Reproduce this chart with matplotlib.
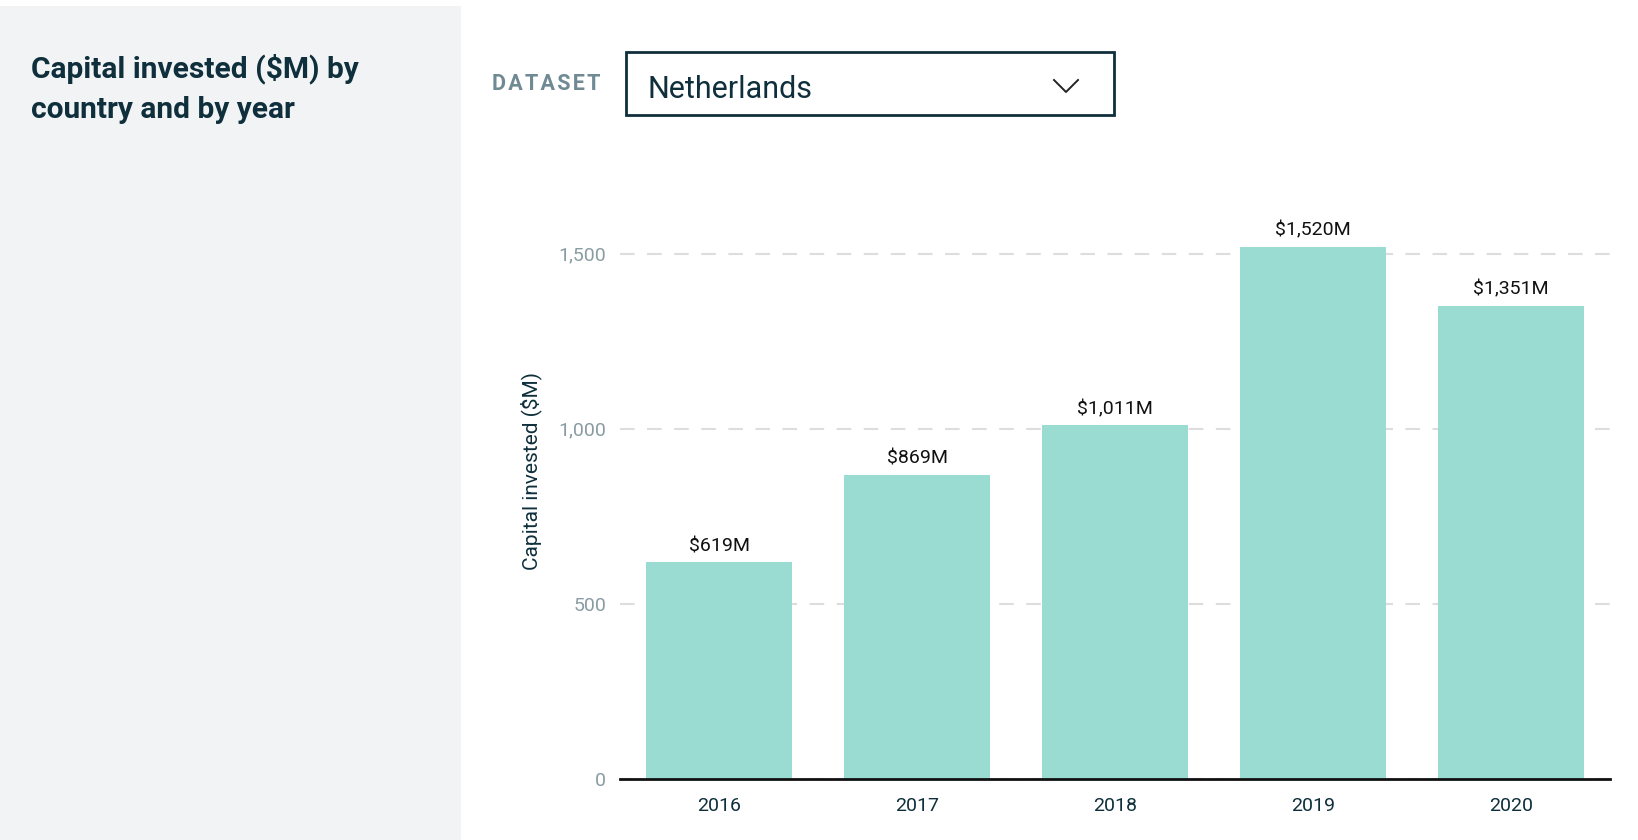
import matplotlib
matplotlib.use("Agg")
import matplotlib.pyplot as plt
from matplotlib.patches import Rectangle
from matplotlib.lines import Line2D

years = ["2016", "2017", "2018", "2019", "2020"]
capital = [619, 869, 1011, 1520, 1351]
bar_labels = ["$619M", "$869M", "$1,011M", "$1,520M", "$1,351M"]
yticks = [0, 500, 1000, 1500]
ytick_labels = ["0", "500", "1,000", "1,500"]
title = "Capital invested ($M) by\ncountry and by year"
dataset = "Netherlands"

W, H = 1638, 840
plt.rcParams['font.family'] = ['Roboto', 'DejaVu Sans']
fig = plt.figure(figsize=(W / 100, H / 100), dpi=100)
fig.patch.set_facecolor("white")

def fx(px):
    return px / W

def fy(py):
    return 1 - py / H

DARK = "#0e2f3b"
# left panel
fig.patches.append(Rectangle((0, 0), fx(461), fy(6), transform=fig.transFigure,
                             facecolor="#f2f3f5", edgecolor="none", zorder=0))
fig.text(fx(31), fy(53), title, fontsize=21.5, fontweight="bold", color=DARK,
         va="top", ha="left", linespacing=1.55)

# dataset selector
fig.text(fx(492), fy(84), "\u200a".join("DATASET"), fontsize=15.5, fontweight="bold",
         color="#6f8a93", va="center", ha="left")
fig.patches.append(Rectangle((fx(626), fy(115)), fx(1114) - fx(626), fy(52) - fy(115),
                             transform=fig.transFigure, facecolor="white",
                             edgecolor=DARK, linewidth=2, zorder=1))
fig.text(fx(648), fy(89), dataset, fontsize=22, color=DARK, va="center", ha="left")
fig.lines.append(Line2D([fx(1054), fx(1066), fx(1078)], [fy(80), fy(92), fy(80)],
                        transform=fig.transFigure, color="#222222", linewidth=1.4))

# chart
ax = fig.add_axes([fx(620), fy(779), fx(1610) - fx(620), fy(201) - fy(779)])
x = list(range(len(years)))
bars = ax.bar(x, capital, width=0.735, color="#9adcd2", zorder=2)
ax.bar_label(bars, labels=bar_labels, padding=5, fontsize=14, color="#111111")
ax.set_xlim(-0.5, 4.5)
ax.set_ylim(0, 1650)
ax.set_xticks(x)
ax.set_xticklabels(years, fontsize=14, color=DARK)
ax.set_yticks(yticks)
ax.set_yticklabels(ytick_labels, fontsize=14, color="#8a9ca3")
ax.tick_params(axis="both", length=0)
ax.tick_params(axis="x", pad=13)
ax.tick_params(axis="y", pad=10)
for s in ["top", "right", "left"]:
    ax.spines[s].set_visible(False)
ax.spines["bottom"].set_color("#111111")
ax.spines["bottom"].set_linewidth(2)
ax.yaxis.grid(True, color="#dddddd", linestyle=(0, (7, 6)), linewidth=1.5, zorder=0)
ax.set_axisbelow(True)
ax.set_ylabel("Capital invested ($M)", fontsize=15, color=DARK)
ax.yaxis.set_label_coords(-0.079, 0.533)

fig.savefig("out.png", dpi=100)
